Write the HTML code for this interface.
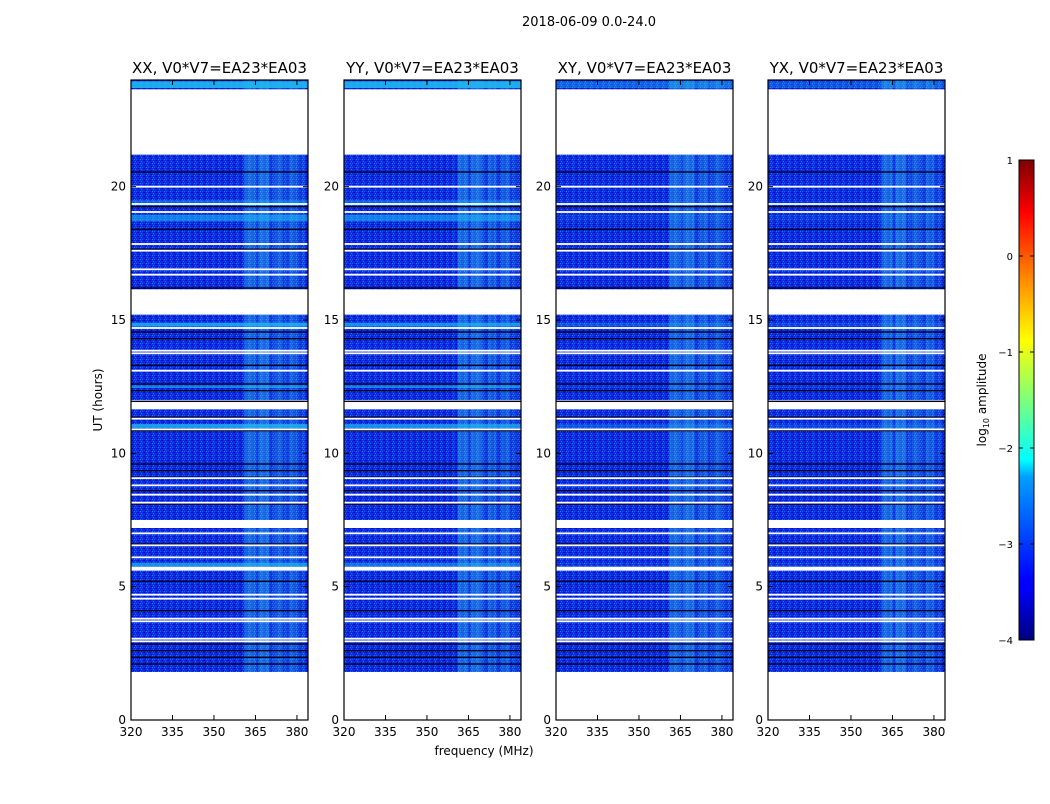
<!DOCTYPE html>
<html><head><meta charset="utf-8"><style>
body{margin:0;background:#fff;width:1050px;height:800px;overflow:hidden;font-family:"DejaVu Sans","Liberation Sans",sans-serif}
svg text{font-family:"DejaVu Sans","Liberation Sans",sans-serif}
</style></head><body>
<svg id="fig" width="1050" height="800" xmlns="http://www.w3.org/2000/svg">
<defs>
<linearGradient id="jet" x1="0" y1="1" x2="0" y2="0">
<stop offset="0" stop-color="#00007f"/><stop offset="0.11" stop-color="#0000ff"/>
<stop offset="0.125" stop-color="#0000ff"/><stop offset="0.34" stop-color="#00a0ff"/>
<stop offset="0.375" stop-color="#00ffff"/><stop offset="0.5" stop-color="#7dff7a"/>
<stop offset="0.625" stop-color="#ffff00"/><stop offset="0.75" stop-color="#ff8c00"/>
<stop offset="0.89" stop-color="#ff0000"/><stop offset="1" stop-color="#7f0000"/>
</linearGradient>
<pattern id="noise" width="6" height="4" patternUnits="userSpaceOnUse">
<rect width="6" height="4" fill="#0c2ce4"/>
<rect x="0" y="0" width="1" height="1" fill="#0008b8"/><rect x="3" y="1" width="1" height="1" fill="#2a6cf5"/>
<rect x="1" y="2" width="1" height="1" fill="#0004a0"/><rect x="4" y="3" width="1" height="1" fill="#1c58f0"/>
<rect x="5" y="0" width="1" height="1" fill="#0618c8"/><rect x="2" y="3" width="1" height="1" fill="#2a78f8"/>
</pattern>
</defs>
<text x="589" y="26" font-size="13" text-anchor="middle">2018-06-09 0.0-24.0</text>
<g id="panels"></g>
<text x="484" y="755" font-size="12" text-anchor="middle">frequency (MHz)</text>
<text transform="translate(102,400) rotate(-90)" font-size="12" text-anchor="middle">UT (hours)</text>
<g>
<rect x="1019" y="160" width="15" height="480" fill="url(#jet)" stroke="#000" stroke-width="1"/>
<g id="cbticks"></g>
<text transform="translate(986,400) rotate(-90)" font-size="12" text-anchor="middle">log<tspan font-size="8" dy="3">10</tspan><tspan dy="-3"> amplitude</tspan></text>
</g>
</svg>
<script>
const panelTitles=["XX, V0*V7=EA23*EA03","YY, V0*V7=EA23*EA03","XY, V0*V7=EA23*EA03","YX, V0*V7=EA23*EA03"];
const panelLefts=[131,344,556,768];
const xTicks=[320,335,350,365,380];
const yTicks=[0,5,10,15,20];
const cbTicks=[1,0,-1,-2,-3,-4];
const dataSegments=[[23.65,24],[16.15,21.2],[12.0,15.2],[7.5,11.65],[5.75,7.2],[1.8,5.6]];
const whiteLines=[20.0,19.35,19.05,17.85,17.6,16.9,16.7,14.7,13.85,13.75,13.1,11.3,10.9,9.07,8.8,8.45,8.15,7.0,6.55,6.1,4.7,4.55,3.8,3.7,3.05,2.95];
const blackLines=[20.55,19.25,18.4,17.65,16.2,14.55,14.3,13.75,13.3,12.6,12.35,11.95,11.35,10.85,9.6,9.35,9.1,8.6,8.1,6.6,5.2,4.1,2.85,2.6,2.35,2.1];
const brightRows=[[23.7,23.95,[0.9,0.9,0.4,0.3]],[18.7,18.95,[0.6,0.6,0.1,0.1]],[19.3,19.5,[0.4,0.4,0.1,0.1]],[14.75,14.9,[0.8,0.7,0.3,0.2]],[10.95,11.1,[0.8,0.7,0.3,0.2]],[12.45,12.55,[0.6,0.6,0.1,0.1]],[5.75,5.9,[0.7,0.5,0.1,0.1]]];
const bands=[[361,383,0.12],[361,365,0.25],[366,370,0.28],[372,375,0.18],[377,380,0.18]];

const NS="http://www.w3.org/2000/svg";
const W=177,y0=80,y1=720;
function yS(t){return y1-(t/24)*(y1-y0);}
function xS(f,L){return L+(f-320)*(W/64);}
function mk(tag,attrs,parent){const e=document.createElementNS(NS,tag);for(const k in attrs)e.setAttribute(k,attrs[k]);parent.appendChild(e);return e;}
const root=document.getElementById('panels');
panelLefts.forEach((L,pi)=>{
  const g=mk('g',{},root);
  
  
  const clip=mk('clipPath',{id:'c'+pi},g);mk('rect',{x:L,y:y0,width:W,height:y1-y0},clip);
  const hm=mk('g',{'clip-path':'url(#c'+pi+')'},g);
  
  
  dataSegments.forEach(s=>{
    const r=mk('rect',{x:L,y:yS(s[1]),width:W,height:yS(s[0])-yS(s[1]),fill:'url(#noise)'},hm);
    
    
    bands.forEach(b=>{
      const br=mk('rect',{x:xS(b[0],L),y:yS(s[1]),width:xS(b[1],L)-xS(b[0],L),height:yS(s[0])-yS(s[1]),fill:'#40e0f0',opacity:b[2]},hm);
      
      
    });
  });
  brightRows.forEach(b=>{
    const r=mk('rect',{x:L,y:yS(b[1]),width:W,height:yS(b[0])-yS(b[1]),fill:'#20b8f0',opacity:b[2][pi]},hm);
    
    
  });
  blackLines.forEach(t=>{
    const r=mk('rect',{x:L,y:yS(t)-0.7,width:W,height:1.4,fill:'#000020'},hm);
    
    
  });
  whiteLines.forEach(t=>{
    const r=mk('rect',{x:L,y:yS(t)-0.9,width:W,height:1.8,fill:'#fff'},hm);
    
    
  });
  const fr=mk('rect',{x:L,y:y0,width:W,height:y1-y0,fill:'none',stroke:'#000','stroke-width':1.2},g);
  
  
  const tt=mk('text',{x:L+W/2,y:y0-7,'font-size':15,'text-anchor':'middle'},g);tt.textContent=panelTitles[pi];
  
  
  xTicks.forEach(f=>{
    const x=xS(f,L);
    mk('line',{x1:x,x2:x,y1:y1,y2:y1-5,stroke:'#000'},g);mk('line',{x1:x,x2:x,y1:y0,y2:y0+5,stroke:'#000'},g);
    const t=mk('text',{x:x,y:y1+16,'font-size':12,'text-anchor':'middle'},g);t.textContent=f;
    
    
  });
  yTicks.forEach(v=>{
    const y=yS(v);
    mk('line',{x1:L,x2:L+5,y1:y,y2:y,stroke:'#000'},g);mk('line',{x1:L+W,x2:L+W-5,y1:y,y2:y,stroke:'#000'},g);
    const t=mk('text',{x:L-5,y:y+4,'font-size':12,'text-anchor':'end'},g);t.textContent=v;
    
    
  });
});
const cb=document.getElementById('cbticks');
cbTicks.forEach(v=>{
  const y=640-(v+4)/5*480;
  mk('line',{x1:1019,x2:1023,y1:y,y2:y,stroke:'#000'},cb);mk('line',{x1:1034,x2:1030,y1:y,y2:y,stroke:'#000'},cb);
  const t=mk('text',{x:1013,y:y+4,'font-size':10,'text-anchor':'end'},cb);t.textContent=v<0?'\u2212'+(-v):v;
  
  
});
</script>
</body></html>
